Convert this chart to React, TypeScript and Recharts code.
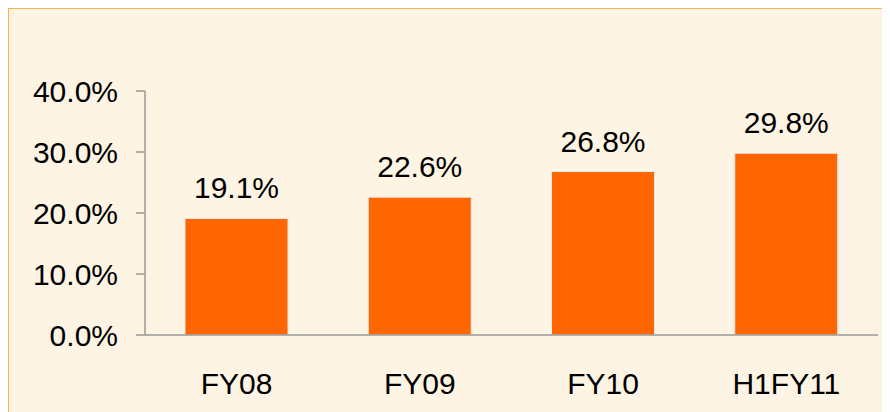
import { BarChart, Bar, XAxis, YAxis, LabelList } from "recharts";

const periods = ["FY08", "FY09", "FY10", "H1FY11"];
const shares = [19.1, 22.6, 26.8, 29.8];
const yTicks = [0, 10, 20, 30, 40];

const data = periods.map((period, i) => ({ period, value: shares[i] }));

const fmt = (v: number) => `${v.toFixed(1)}%`;
const font = "'Liberation Sans', Arial, sans-serif";

export default function App() {
  return (
    <div
      style={{
        width: 878,
        height: 410,
        border: "1px solid #fbb24a",
        background: "#fef4e3",
      }}
    >
      <BarChart
        width={878}
        height={410}
        data={data}
        margin={{ top: 82, right: 9, left: 0, bottom: 0 }}
      >
        <XAxis
          dataKey="period"
          height={84}
          tickLine={false}
          tickSize={0}
          tickMargin={38}
          axisLine={{ stroke: "#9a9a9a", strokeWidth: 1.5 }}
          tick={{ fill: "#000", fontSize: 30, fontFamily: font }}
        />
        <YAxis
          width={136}
          domain={[0, 40]}
          ticks={yTicks}
          tickFormatter={fmt}
          tickSize={9}
          tickMargin={18}
          axisLine={{ stroke: "#9a9a9a", strokeWidth: 1.5 }}
          tickLine={{ stroke: "#9a9a9a", strokeWidth: 1.5 }}
          tick={{ fill: "#000", fontSize: 30, fontFamily: font }}
        />
        <Bar
          dataKey="value"
          fill="#ff6600"
          stroke="#e4eaf0"
          strokeWidth={1}
          barSize={103}
          isAnimationActive={false}
        >
          <LabelList
            dataKey="value"
            position="top"
            offset={20}
            formatter={(v: any) => fmt(Number(v))}
            style={{ fill: "#000", fontSize: 30, fontFamily: font }}
          />
        </Bar>
      </BarChart>
    </div>
  );
}
